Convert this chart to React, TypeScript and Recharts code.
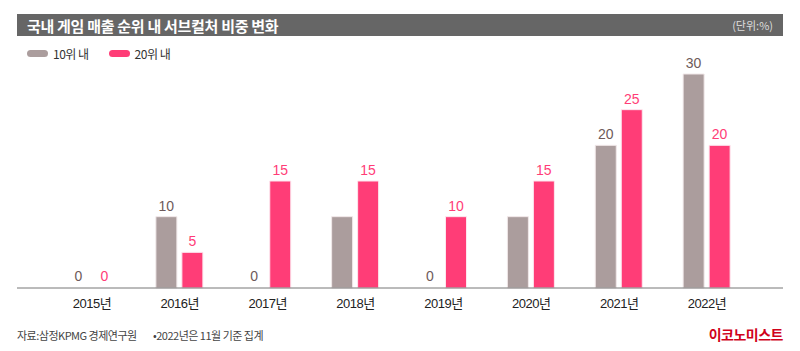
import { Bar, BarChart, Cell, LabelList, XAxis, YAxis } from "recharts";

const years = ["2015년", "2016년", "2017년", "2018년", "2019년", "2020년", "2021년", "2022년"];
const top10 = [0, 10, 0, 10, 0, 10, 20, 30];
const top20 = [0, 5, 15, 15, 10, 15, 25, 20];
// 2018, 2020 gray bars carry no number in the original
const top10LabelShown = [true, true, true, false, true, false, true, true];

const GRAY = "#ab9d9d";
const PINK = "#ff3d77";
const FONT = "'Liberation Sans', 'Noto Sans CJK KR', sans-serif";

const data = years.map((year, i) => ({
    year,
    top10: top10[i],
    top20: top20[i],
    top10Label: top10LabelShown[i] ? top10[i] : null,
}));

function LegendItem({ color, label }: { color: string; label: string }) {
    return (
        <div style={{ display: "flex", alignItems: "center", marginRight: 20 }}>
            <div style={{ width: 21, height: 7, borderRadius: 4, background: color, marginRight: 5 }} />
            <span style={{ fontSize: 12, color: "#333", fontFamily: "'Noto Sans CJK KR', sans-serif", letterSpacing: -0.5 }}>{label}</span>
        </div>
    );
}

export default function App() {
    return (
        <div style={{ position: "absolute", left: 0, top: 0, width: 800, height: 351, background: "#fff", overflow: "hidden" }}>
            <div style={{
                position: "absolute", left: 17, top: 14, width: 766, height: 22, background: "#666",
                display: "flex", alignItems: "center", justifyContent: "space-between", boxSizing: "border-box",
                padding: "0 10px 0 10px", fontFamily: "'Noto Sans CJK KR', sans-serif",
            }}>
                <span style={{ color: "#fff", fontWeight: 700, fontSize: 15, letterSpacing: -0.3 }}>국내 게임 매출 순위 내 서브컬처 비중 변화</span>
                <span style={{ color: "#ddd", fontSize: 11 }}>(단위:%)</span>
            </div>
            <div style={{ position: "absolute", left: 27, top: 45, display: "flex" }}>
                <LegendItem color={GRAY} label="10위 내" />
                <LegendItem color={PINK} label="20위 내" />
            </div>
            <div style={{ position: "absolute", left: 0, top: 0 }}>
                <BarChart width={800} height={351} data={data} margin={{ top: 74, right: 17, bottom: 33, left: 17 }}
                    barSize={21} barGap={5}>
                    <XAxis dataKey="year" height={30} padding={{ left: 31, right: 32 }} tickLine={false} tickMargin={5}
                        axisLine={{ stroke: "#777" }}
                        tick={{ fill: "#222", fontSize: 13, fontFamily: FONT, letterSpacing: -0.5 }} />
                    <YAxis hide domain={[0, 30]} />
                    <Bar dataKey="top10" fill={GRAY} stroke="#f1e8e9" strokeWidth={1} minPointSize={1} isAnimationActive={false}>
                        {data.map((d, i) => (
                            <Cell key={i} fillOpacity={d.top10 === 0 ? 0 : 1} strokeOpacity={d.top10 === 0 ? 0 : 1} />
                        ))}
                        <LabelList dataKey="top10Label" position="top" offset={6} fill="#6e5a5a" fontSize={14} fontFamily={FONT} />
                    </Bar>
                    <Bar dataKey="top20" fill={PINK} stroke="#fde6ee" strokeWidth={1} minPointSize={1} isAnimationActive={false}>
                        {data.map((d, i) => (
                            <Cell key={i} fillOpacity={d.top20 === 0 ? 0 : 1} strokeOpacity={d.top20 === 0 ? 0 : 1} />
                        ))}
                        <LabelList dataKey="top20" position="top" offset={6} fill={PINK} fontSize={14} fontFamily={FONT} />
                    </Bar>
                </BarChart>
            </div>
            <div style={{ position: "absolute", left: 17, top: 327, fontSize: 11, color: "#444", fontFamily: "'Noto Sans CJK KR', sans-serif", letterSpacing: -0.5 }}>
                자료:삼정KPMG 경제연구원
            </div>
            <div style={{ position: "absolute", left: 153, top: 327, fontSize: 11, color: "#444", fontFamily: "'Noto Sans CJK KR', sans-serif", letterSpacing: -0.5 }}>
                •2022년은 11월 기준 집계
            </div>
            <div style={{ position: "absolute", right: 17, top: 324, fontSize: 14, fontWeight: 700, color: "#d0021b", fontFamily: "'Noto Sans CJK KR', sans-serif", letterSpacing: -0.5 }}>
                이코노미스트
            </div>
        </div>
    );
}
